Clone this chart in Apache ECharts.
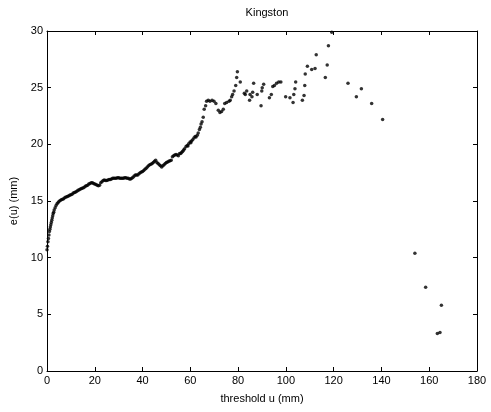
<!DOCTYPE html>
<html>
<head>
<meta charset="utf-8">
<script src="https://cdn.jsdelivr.net/npm/echarts@6/dist/echarts.min.js"></script>
<style>
  html, body { margin: 0; padding: 0; background: #fff; }
  #main { width: 491px; height: 412px; }
</style>
</head>
<body>
<div id="main"></div>
<script>
// threshold u (mm) and mean excess e(u) (mm)
var thresholds = [
  0.0, 0.2, 0.4, 0.6, 0.8, 1.0, 1.2, 1.4, 1.6, 1.8, 2.0, 2.2, 2.4, 2.6, 2.8, 3.0, 3.4, 3.8, 4.2, 4.6,
  5.0, 5.5, 6.0, 6.5, 7.0, 7.5, 8.0, 8.5, 9.0, 9.5, 10, 10.5, 11, 11.5, 12, 12.5, 13, 13.5, 14, 14.5,
  15, 15.5, 16, 16.5, 17, 17.5, 18, 18.5, 19, 19.5, 20, 20.5, 21, 21.5, 22, 22.5, 23, 23.5, 24, 24.5,
  25, 25.5, 26, 26.5, 27, 27.5, 28, 28.5, 29, 29.5, 30, 30.5, 31, 31.5, 32, 32.5, 33, 33.5, 34, 34.5,
  35, 35.5, 36, 36.5, 37, 37.5, 38, 38.5, 39, 39.5, 40, 40.5, 41, 41.5, 42, 42.5, 43, 43.5, 44, 44.5,
  45, 45.5, 46, 46.5, 47, 47.5, 48, 48.5, 49, 49.5, 50, 50.5, 51, 51.5, 52, 52.5, 53, 53.5, 54, 54.5,
  55, 55.5, 56, 56.4, 56.8, 57.2, 57.6, 58.2, 58.7, 59.0, 59.3, 59.9, 60.2, 60.5, 61.0, 61.5, 62.0,
  62.4, 62.9, 63.3, 63.8, 64.2, 64.5, 64.9, 65.4,
  65.8, 66.4, 66.8, 67.5, 68.2, 69.1, 69.9, 70.7, 71.7, 72.4, 73.1, 73.8, 74.4, 75.2, 76.2, 76.7,
  77.3, 77.7, 78.3, 79.0, 79.4, 79.7, 80.9, 82.6, 83.0, 83.6, 84.8, 85.0, 85.8, 86.1, 86.5, 88.0,
  89.6, 89.9, 90.1, 90.7, 93.1, 93.9, 94.5, 95.2, 96.1, 97.0, 97.9, 99.9, 101.7, 103.0, 103.3,
  103.8, 104.1, 106.9, 107.6, 107.9, 108.1, 109.0, 110.8, 112.2, 112.7, 116.5, 117.3, 117.8, 119.2,
  126.0, 129.5, 131.6, 135.9, 140.5, 154.0, 158.5, 163.4, 164.5, 165.1
];
var meanExcess = [
  10.7, 11.0, 11.4, 11.7, 12.0, 12.3, 12.5, 12.7, 12.9, 13.1, 13.3, 13.5, 13.7, 13.9, 14.0, 14.2, 14.4, 14.6, 14.75, 14.85,
  14.95, 15.05, 15.1, 15.15, 15.2, 15.3, 15.35, 15.4, 15.45, 15.5, 15.55, 15.6, 15.7, 15.75, 15.8, 15.85, 15.95, 16.0, 16.05, 16.1,
  16.15, 16.2, 16.3, 16.35, 16.4, 16.5, 16.55, 16.6, 16.6, 16.55, 16.5, 16.45, 16.4, 16.35, 16.4, 16.6, 16.7, 16.8, 16.85, 16.8,
  16.8, 16.85, 16.9, 16.9, 16.95, 17.0, 17.0, 17.0, 17.0, 17.05, 17.05, 17.0, 17.0, 17.0, 17.0, 17.05, 17.05, 17.0, 17.0, 16.95,
  16.95, 17.0, 17.1, 17.2, 17.3, 17.3, 17.3, 17.4, 17.5, 17.55, 17.6, 17.7, 17.8, 17.9, 18.0, 18.1, 18.2, 18.25, 18.3, 18.4,
  18.5, 18.6, 18.4, 18.3, 18.2, 18.1, 18.0, 18.1, 18.2, 18.3, 18.4, 18.45, 18.5, 18.55, 18.6, 18.9, 19.0, 19.05, 19.1, 19.05,
  19.0, 19.2, 19.2, 19.3, 19.4, 19.5, 19.6, 19.8, 19.9, 19.85, 20.05, 20.2, 20.15, 20.3, 20.4, 20.55, 20.7,
  20.65, 20.8, 21.0, 21.3, 21.5, 21.8, 22.0, 22.4,
  23.1, 23.4, 23.8, 23.9, 23.8, 23.9, 23.8, 23.6, 23.0, 22.8, 22.9, 23.1, 23.6, 23.7, 23.8, 23.9,
  24.2, 24.4, 24.7, 25.2, 25.9, 26.4, 25.5, 24.5, 24.4, 24.7, 23.9, 24.4, 24.2, 24.6, 25.4, 24.4,
  23.4, 24.7, 25.0, 25.3, 24.1, 24.4, 25.1, 25.2, 25.4, 25.5, 25.5, 24.2, 24.1, 23.7, 24.4,
  24.9, 25.5, 23.9, 24.3, 25.2, 26.2, 26.9, 26.6, 26.7, 27.9, 25.9, 27.0, 28.7, 29.9,
  25.4, 24.2, 24.9, 23.6, 22.2, 10.4, 7.4, 3.3, 3.4, 5.8
];
var xTicks = { min: 0, max: 180, interval: 20 };
var yTicks = { min: 0, max: 30, interval: 5 };

var points = thresholds.map(function (u, i) { return [u, meanExcess[i]]; });

var chart = echarts.init(document.getElementById('main'), null, { renderer: 'canvas' });

var font = 'Liberation Sans, Arial, Helvetica, sans-serif';
var lineStyle = { color: '#000', width: 1 };

function xAxisOf(pos, showLabel) {
  return {
    type: 'value',
    position: pos,
    min: xTicks.min, max: xTicks.max, interval: xTicks.interval,
    name: showLabel ? 'threshold u (mm)' : '',
    nameLocation: 'middle',
    nameGap: 22,
    nameTextStyle: { color: '#000', fontSize: 11, fontFamily: font },
    axisLine: { show: true, onZero: false, lineStyle: lineStyle },
    axisTick: { show: true, inside: true, length: 4, lineStyle: lineStyle },
    axisLabel: { show: showLabel, color: '#000', fontSize: 11, fontFamily: font, margin: 4 },
    splitLine: { show: false }
  };
}

function yAxisOf(pos, showLabel) {
  return {
    type: 'value',
    position: pos,
    min: yTicks.min, max: yTicks.max, interval: yTicks.interval,
    name: showLabel ? 'e(u) (mm)' : '',
    nameLocation: 'middle',
    nameGap: 22,
    nameRotate: 90,
    nameTextStyle: { color: '#000', fontSize: 11, fontFamily: font },
    axisLine: { show: true, onZero: false, lineStyle: lineStyle },
    axisTick: { show: true, inside: true, length: 4, lineStyle: lineStyle },
    axisLabel: { show: showLabel, color: '#000', fontSize: 11, fontFamily: font, margin: 4 },
    splitLine: { show: false }
  };
}

var option = {
  backgroundColor: '#ffffff',
  animation: false,
  title: {
    text: 'Kingston',
    left: 262,
    textAlign: 'center',
    top: 2,
    textStyle: { color: '#000', fontSize: 11, fontWeight: 'normal', fontFamily: font }
  },
  grid: { left: 47, right: 14, top: 31, bottom: 41 },
  xAxis: [xAxisOf('bottom', true), xAxisOf('top', false)],
  yAxis: [yAxisOf('left', true), yAxisOf('right', false)],
  series: [{
    type: 'scatter',
    xAxisIndex: 0,
    yAxisIndex: 0,
    symbol: 'circle',
    symbolSize: 3.5,
    itemStyle: { color: '#000' },
    data: points
  }]
};

chart.setOption(option);
</script>
</body>
</html>
